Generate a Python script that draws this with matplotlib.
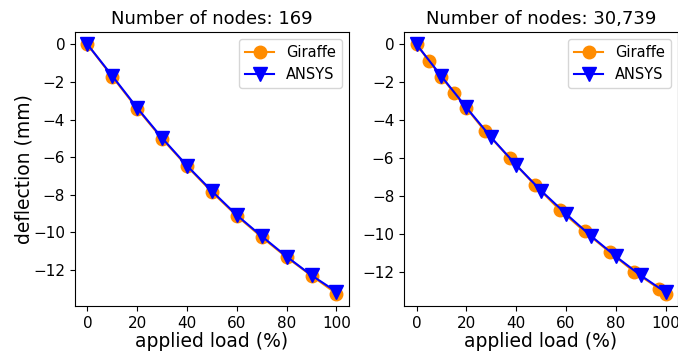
import numpy as np
import matplotlib.pyplot as plt

# Number of nodes: 169
load_g1 = [0, 10, 20, 30, 40, 50, 60, 70, 80, 90, 100]
defl_g1 = [0, -1.72, -3.42, -5.02, -6.48, -7.85, -9.12, -10.25, -11.32, -12.30, -13.25]
load_a1 = [0, 10, 20, 30, 40, 50, 60, 70, 80, 90, 100]
defl_a1 = [0, -1.68, -3.38, -4.98, -6.45, -7.80, -9.08, -10.20, -11.28, -12.28, -13.15]

# Number of nodes: 30,739
load_g2 = [0, 5, 10, 15, 20, 27.5, 37.5, 47.5, 57.5, 67.5, 77.5, 87.5, 97.5, 100]
defl_g2 = [0, -0.87, -1.70, -2.55, -3.35, -4.57, -6.00, -7.40, -8.71, -9.85,
           -10.93, -11.98, -12.87, -13.12]
load_a2 = [0, 10, 20, 30, 40, 50, 60, 70, 80, 90, 100]
defl_a2 = [0, -1.68, -3.32, -4.90, -6.35, -7.70, -8.92, -10.08, -11.16, -12.16, -13.05]

titles = ["Number of nodes: 169", "Number of nodes: 30,739"]

fig = plt.figure(figsize=(6.78, 3.51), dpi=100)
ax1 = fig.add_axes([0.1106, 0.128, 0.404, 0.781])
ax2 = fig.add_axes([0.596, 0.128, 0.404, 0.781])

data = [(load_g1, defl_g1, load_a1, defl_a1), (load_g2, defl_g2, load_a2, defl_a2)]
for ax, (xg, yg, xa, ya), t in zip([ax1, ax2], data, titles):
    ax.plot(xg, yg, '-o', color='darkorange', markersize=9, label='Giraffe')
    ax.plot(xa, ya, '-v', color='blue', markersize=9.5, label='ANSYS')
    ax.set_title(t, fontsize=13)
    ax.set_xlabel('applied load (%)', fontsize=13.5, labelpad=1)
    ax.set_xticks([0, 20, 40, 60, 80, 100])
    ax.set_yticks([0, -2, -4, -6, -8, -10, -12])
    ax.tick_params(labelsize=11)
    ax.legend(loc='upper right', fontsize=10.5)

ax1.set_ylabel('deflection (mm)', fontsize=13.5, labelpad=0)

plt.savefig('out.png', dpi=100)
